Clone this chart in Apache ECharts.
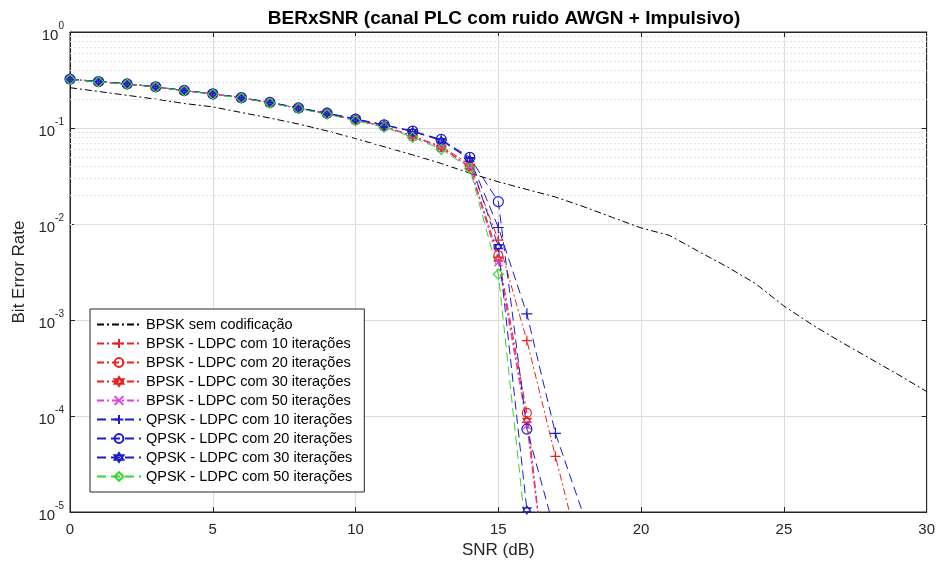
<!DOCTYPE html>
<html>
<head>
<meta charset="utf-8">
<script src="https://cdn.jsdelivr.net/npm/echarts@6/dist/echarts.min.js"></script>
<style>
html,body{margin:0;padding:0;background:#fff;}
#chart{width:938px;height:565px;}
</style>
</head>
<body>
<div id="chart"></div>
<script>
// ---- data ----
const snrUncoded = [0,1,2,3,4,5,6,7,8,9,10,11,12,13,14,15,16,17,18,19,20,21,22,23,24,25,26,27,28,29,30];
const berUncoded = [0.263,0.240,0.219,0.200,0.180,0.166,0.145,0.127,0.110,0.0933,0.0776,0.0638,0.0525,0.0427,0.0339,0.0275,0.0229,0.0191,0.0151,0.0117,0.0091,0.0076,0.0052,0.0036,0.0024,0.0014,8.9e-4,5.9e-4,4.0e-4,2.7e-4,1.8e-4];
const snrCoded = [0,1,2,3,4,5,6,7,8,9,10,11,12,13,14,15,16,17,18];
const bpsk10 = [0.322,0.303,0.287,0.268,0.245,0.226,0.206,0.184,0.161,0.141,0.121,0.104,0.083,0.064,0.042,0.0068,6.1e-4,3.8e-5,2.5e-6];
const bpsk20 = [0.322,0.303,0.287,0.268,0.245,0.226,0.206,0.184,0.160,0.141,0.121,0.104,0.082,0.063,0.040,0.0047,1.08e-4,2.5e-7];
const bpsk30 = [0.321,0.303,0.286,0.268,0.245,0.226,0.206,0.183,0.160,0.141,0.121,0.104,0.082,0.063,0.039,0.0043,9.0e-5,3e-7];
const bpsk50 = [0.321,0.303,0.286,0.268,0.245,0.225,0.206,0.183,0.160,0.141,0.121,0.104,0.082,0.062,0.039,0.0040,8.0e-5,3e-7];
const qpsk10 = [0.323,0.305,0.288,0.269,0.246,0.227,0.207,0.185,0.162,0.143,0.124,0.108,0.092,0.075,0.048,0.0092,1.16e-3,6.6e-5,9e-6];
const qpsk20 = [0.323,0.305,0.288,0.269,0.246,0.227,0.207,0.185,0.162,0.143,0.124,0.108,0.093,0.076,0.0495,0.0171,7.3e-5,5.9e-6];
const qpsk30 = [0.322,0.304,0.287,0.269,0.245,0.226,0.207,0.184,0.161,0.142,0.123,0.107,0.092,0.074,0.047,0.0058,1.05e-5];
const qpsk50 = [0.320,0.302,0.286,0.267,0.244,0.225,0.205,0.182,0.159,0.139,0.119,0.102,0.080,0.060,0.038,0.0030,5e-6];
const seriesNames = ['BPSK sem codificação','BPSK - LDPC com 10 iterações','BPSK - LDPC com 20 iterações','BPSK - LDPC com 30 iterações','BPSK - LDPC com 50 iterações','QPSK - LDPC com 10 iterações','QPSK - LDPC com 20 iterações','QPSK - LDPC com 30 iterações','QPSK - LDPC com 50 iterações'];
const xTicks = [0,5,10,15,20,25,30];
const yMin = 1e-5, yMax = 1;

// ---- styles ----
const FONT = 'Liberation Sans, Arial, sans-serif';
const RED = '#e82222', BLUE = '#1c1cc8', MAG = '#e040e0', GREEN = '#30d830', BLACK = '#000000';
const DASHDOT = [7,3,2,3];
const DASH = [9,5];
const PLUS = 'path://M0,-10L0,10M-10,0L10,0';
const XMARK = 'path://M-7,-7L7,7M-7,7L7,-7';
const HEX = 'path://M0,-10L8.66,5L-8.66,5ZM0,10L8.66,-5L-8.66,-5Z';

function pairs(xs, ys){ return ys.map((v,i)=>[xs[i], v]); }
function coded(name, ys, color, dash, symbol, size){
  return {
    name, type:'line', data: pairs(snrCoded, ys), color,
    symbol, symbolSize: size, showAllSymbol: true, clip: true, z: 5,
    lineStyle:{color, width:1, type:dash},
    itemStyle:{color:'rgba(255,255,255,0)', borderColor:color, borderWidth:1.2},
    emphasis:{disabled:true}, animation:false
  };
}
const minorVals = [];
for (let e = -5; e < 0; e++) for (let m = 2; m <= 9; m++) minorVals.push({yAxis: m*Math.pow(10,e)});

const supLabel = {
  formatter: v => '{b|10}{s|' + Math.round(Math.log10(v)) + '}',
  rich: {
    b:{fontSize:15, color:'#262626', fontFamily:FONT, verticalAlign:'bottom', lineHeight:22},
    s:{fontSize:10, color:'#262626', fontFamily:FONT, verticalAlign:'top', lineHeight:22}
  },
  margin: 6
};

const chart = echarts.init(document.getElementById('chart'), null, {renderer:'canvas'});
chart.setOption({
  animation:false,
  backgroundColor:'#ffffff',
  textStyle:{fontFamily:FONT},
  title:{
    text:'BERxSNR (canal PLC com ruido AWGN + Impulsivo)',
    left:499, top:4, textAlign:'center',
    textStyle:{fontSize:19, fontWeight:'bold', color:'#000', fontFamily:FONT}
  },
  grid:{left:70, right:10, top:32, bottom:53, show:true, borderColor:'#262626', borderWidth:1, backgroundColor:'#fff'},
  legend:{
    data: seriesNames, orient:'vertical', left:90, top:309,
    backgroundColor:'#fff', borderColor:'#262626', borderWidth:1,
    padding:[8,12,8,6], itemGap:4, itemWidth:44, itemHeight:11,
    textStyle:{fontSize:14.5, color:'#000', fontFamily:FONT},
    selectedMode:false
  },
  xAxis:[{
    type:'value', min:0, max:30, interval:5,
    name:'SNR (dB)', nameLocation:'middle', nameGap:29,
    nameTextStyle:{fontSize:17, color:'#262626'},
    axisLine:{show:true, onZero:false, lineStyle:{color:'#262626'}},
    axisTick:{show:true, inside:true, length:5, lineStyle:{color:'#262626'}},
    axisLabel:{fontSize:15, color:'#262626', margin:10, formatter: v => xTicks.includes(v) ? String(v) : ''},
    splitLine:{show:true, lineStyle:{color:'#dcdcdc', width:1}}
  },{
    type:'value', min:0, max:30, interval:5, position:'top',
    axisLine:{show:true, onZero:false, lineStyle:{color:'#262626'}},
    axisTick:{show:true, inside:true, length:5, lineStyle:{color:'#262626'}},
    axisLabel:{show:false}, splitLine:{show:false}
  }],
  yAxis:[{
    type:'log', logBase:10, min:yMin, max:yMax, splitNumber:5,
    name:'Bit Error Rate', nameLocation:'middle', nameGap:34, nameRotate:90,
    nameTextStyle:{fontSize:17, color:'#262626'},
    axisLine:{show:true, onZero:false, lineStyle:{color:'#262626'}},
    axisTick:{show:true, inside:true, length:5, lineStyle:{color:'#262626'}},
    axisLabel: supLabel,
    splitLine:{show:true, lineStyle:{color:'#dcdcdc', width:1}}
  },{
    type:'log', logBase:10, min:yMin, max:yMax, splitNumber:5, position:'right',
    axisLine:{show:true, onZero:false, lineStyle:{color:'#262626'}},
    axisTick:{show:true, inside:true, length:5, lineStyle:{color:'#262626'}},
    axisLabel:{show:false}, splitLine:{show:false}
  }],
  series:[
    {
      name:'minorGrid', type:'line', data:[], z:1, silent:true,
      markLine:{silent:true, symbol:'none', label:{show:false}, animation:false,
        lineStyle:{color:'#e2e2e2', type:[2,2], width:1}, data: minorVals}
    },
    {
      name: seriesNames[0], type:'line', data: pairs(snrUncoded, berUncoded), color:BLACK,
      symbol:'circle', symbolSize:1, showSymbol:false, z:4,
      itemStyle:{color:'rgba(0,0,0,0)', borderWidth:0},
      lineStyle:{color:BLACK, width:1, type:DASHDOT}, emphasis:{disabled:true}
    },
    coded(seriesNames[1], bpsk10, RED, DASHDOT, PLUS, 10),
    coded(seriesNames[2], bpsk20, RED, DASHDOT, 'circle', 9),
    coded(seriesNames[3], bpsk30, RED, DASHDOT, HEX, 8),
    coded(seriesNames[4], bpsk50, MAG, DASHDOT, XMARK, 8),
    coded(seriesNames[5], qpsk10, BLUE, DASH, PLUS, 11),
    coded(seriesNames[6], qpsk20, BLUE, DASH, 'circle', 10),
    coded(seriesNames[7], qpsk30, BLUE, DASH, HEX, 8),
    coded(seriesNames[8], qpsk50, GREEN, DASH, 'diamond', 10)
  ]
});
</script>
</body>
</html>
